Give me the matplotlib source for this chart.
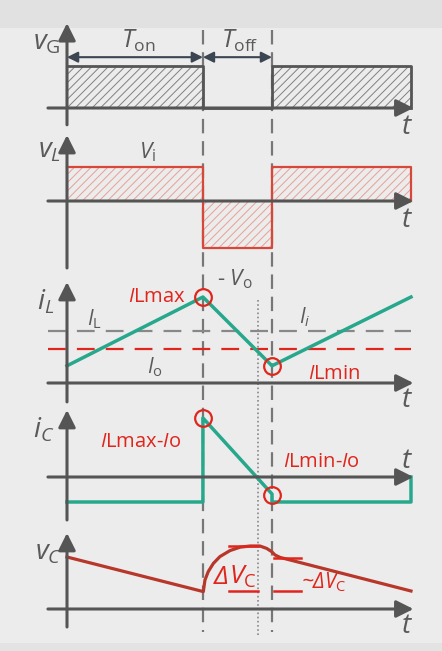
import matplotlib
matplotlib.use("Agg")
import matplotlib.pyplot as plt
from matplotlib import font_manager as fm

# pick an italic face that really exists for the math letters
_faces = {(f.name, f.style) for f in fm.fontManager.ttflist}
it_family, it_style = 'DejaVu Sans', 'oblique'
for fam in ['Open Sans', 'Noto Sans', 'Lato', 'Roboto']:
    if (fam, 'italic') in _faces:
        it_family, it_style = fam, 'italic'
        break

plt.rcParams['font.family'] = ['Open Sans', 'DejaVu Sans']
plt.rcParams['mathtext.fontset'] = 'custom'
plt.rcParams['mathtext.rm'] = 'Open Sans'
plt.rcParams['mathtext.it'] = f'{it_family}:style={it_style}'
plt.rcParams['hatch.linewidth'] = 0.7

# switching times (one period = 1)
t_on = 0.663
t_per = 1.0
t_end = 1.678
t_dot = 0.932          # dotted line: zero crossing of iC

# gate / inductor voltage (step waveforms)
t_step = [0, t_on, t_on, t_per, t_per, t_end, t_end]
vg_lvl = [1, 1, 0, 0, 1, 1, 0]
vl_lvl = [1, 1, -1.38, -1.38, 1, 1, 0]

# inductor current
il_t = [0, t_on, t_per, t_end]
il_v = [1.0, 5.0, 1.0, 5.0]
I_L = 3.0
I_o = 2.0
il_peak = (t_on, 5.0)
il_valley = (t_per, 1.0)

# capacitor current
ic_t = [0, t_on, t_on, t_per, t_per, t_end, t_end]
ic_v = [-1.25, -1.25, 2.95, -0.85, -1.25, -1.25, 0]
ic_peak = (t_on, 2.95)
ic_valley = (t_per, -0.9)

# capacitor voltage
vc_t = [0, 0.665, 0.673, 0.689, 0.714, 0.746, 0.795, 0.844, 0.893, 0.941,
        0.974, 0.998, 1.015, 1.039, 1.678]
vc_v = [2.6, 0.87, 1.45, 1.87, 2.28, 2.62, 2.92, 3.09, 3.15, 3.15,
        3.03, 2.87, 2.70, 2.58, 0.9]

W, H = 442, 651
X0, X1 = -67 / 205, 375 / 205

GRAY = '#5a5a5a'
AX = '#555555'
RED = '#e0261c'
GREEN = '#27a88c'
DRED = '#b8372b'

fig = plt.figure(figsize=(W / 100, H / 100), dpi=100, facecolor='#ececec')

bg = fig.add_axes([0, 0, 1, 1])
bg.set_xlim(X0, X1)
bg.set_ylim(H, 0)
bg.axis('off')
bg.axhspan(0, 28, color='#e1e1e1', lw=0)
bg.axhspan(643, H, color='#e3e3e3', lw=0)
for tv in (t_on, t_per):
    bg.plot([tv, tv], [30, 632], color='#777777', lw=1.6, ls=(0, (6.5, 3.5)))
bg.plot([t_dot, t_dot], [300, 637], color='#888888', lw=1.2, ls=(0, (1, 1.5)))


def panel(top, bottom, base, scale):
    ax = fig.add_axes([0, 1 - bottom / H, 1, (bottom - top) / H])
    ax.set_xlim(X0, X1)
    ax.set_ylim((base - bottom) / scale, (base - top) / scale)
    ax.axis('off')
    ax.patch.set_alpha(0)
    return ax


def axes_arrows(ax, ylo, yhi):
    kw = dict(arrowstyle='-|>', mutation_scale=26, lw=2.2, color=AX,
              shrinkA=0, shrinkB=0)
    ax.annotate('', xy=(1.69, 0), xytext=(-0.093, 0), arrowprops=kw)
    ax.annotate('', xy=(0, yhi), xytext=(0, ylo), arrowprops=kw)


# panel 1: vG
a1 = panel(15, 135, 108, 42)
a1.fill_between(t_step, 0, vg_lvl, facecolor='none', edgecolor='#808080',
                hatch='////', lw=0)
a1.plot(t_step, vg_lvl, color=AX, lw=2)
axes_arrows(a1, -0.40, 2.02)
akw = dict(arrowstyle='<|-|>', mutation_scale=16, lw=1.5, color='#3c4652',
           shrinkA=0, shrinkB=0)
a1.annotate('', xy=(t_on, 1.21), xytext=(0, 1.21), arrowprops=akw)
a1.annotate('', xy=(t_per, 1.21), xytext=(t_on, 1.21), arrowprops=akw)

# panel 2: vL
a2 = panel(130, 275, 201, 34)
a2.fill_between(t_step, 0, vl_lvl, facecolor='none', edgecolor='#e6a095',
                hatch='////', lw=0)
a2.plot(t_step, vl_lvl, color='#d8483a', lw=1.6)
axes_arrows(a2, -1.97, 1.94)

# panel 3: iL
a3 = panel(275, 405, 383, 17.2)
a3.plot([-0.093, 1.68], [I_L, I_L], color='#888888', lw=1.6, ls=(0, (8, 5)))
a3.plot([-0.093, 1.68], [I_o, I_o], color=RED, lw=1.6, ls=(0, (8, 5)))
axes_arrows(a3, -1.1, 5.87)
a3.plot(il_t, il_v, color=GREEN, lw=2.5)
a3.plot(*zip(il_peak, il_valley), ls='none', marker='o', ms=12, mfc='none',
        mec=RED, mew=1.6)

# panel 4: iC
a4 = panel(400, 520, 477, 20)
axes_arrows(a4, -2.15, 3.35)
a4.plot(ic_t, ic_v, color=GREEN, lw=2.5)
a4.plot(*zip(ic_peak, ic_valley), ls='none', marker='o', ms=12, mfc='none',
        mec=RED, mew=1.6)

# panel 5: vC
a5 = panel(520, 645, 609, 20)
axes_arrows(a5, -0.9, 3.8)
a5.plot(vc_t, vc_v, color=DRED, lw=2.3)
a5.plot([0.79, 0.93], [3.15, 3.15], color=RED, lw=1.8)
a5.plot([0.79, 0.93], [0.9, 0.9], color=RED, lw=1.8)
a5.plot([1.01, 1.14], [2.55, 2.55], color=RED, lw=1.8)
a5.plot([1.01, 1.14], [0.9, 0.9], color=RED, lw=1.8)


def px(x):
    return (x - 67) / 205


def label(x, y, s, color=GRAY, size=15, ha='left', **kw):
    bg.text(px(x), y, s, color=color, fontsize=size, ha=ha, va='baseline',
            zorder=10, **kw)


label(61, 50, r'$v_\mathrm{G}$', size=20, ha='right')
label(138, 48, r'$T_\mathrm{on}$', size=18, ha='center')
label(240, 48, r'$T_\mathrm{off}$', size=18, ha='center')
label(61, 158, r'$v_L$', size=20, ha='right')
label(147, 158, r'$V_\mathrm{i}$', size=16, ha='center')
label(217, 285, r'- $V_\mathrm{o}$', size=16)
label(54, 309, r'$i_L$', size=20, ha='right')
label(94, 325, r'$I_\mathrm{L}$', size=15, ha='center')
label(305, 323, r'$I_i$', size=15, ha='center')
label(155, 373, r'$I_\mathrm{o}$', size=15, ha='center')
label(128, 302, r'$I$Lmax', color=RED, size=14.5)
label(308, 379, r'$I$Lmin', color=RED, size=14.5)
label(54, 437, r'$i_C$', size=20, ha='right')
label(100, 447, r'$I$Lmax-$I$o', color=RED, size=14.5)
label(283, 467, r'$I$Lmin-$I$o', color=RED, size=14.5)
label(62, 560, r'$v_C$', size=20, ha='right')
# delta labels: italic Greek Delta as plain italic text
label(214, 584, 'Δ', color=RED, size=19, family=it_family, style=it_style)
label(229, 584, r'$V_\mathrm{C}$', color=RED, size=19)
label(302, 588, '~Δ', color=RED, size=15, family=it_family, style=it_style)
label(324, 588, r'$V_\mathrm{C}$', color=RED, size=15)
for yb in (134, 227, 407, 468, 633):
    label(407, yb, r'$t$', size=20, ha='center')

fig.savefig('out.png', dpi=100, facecolor=fig.get_facecolor())
